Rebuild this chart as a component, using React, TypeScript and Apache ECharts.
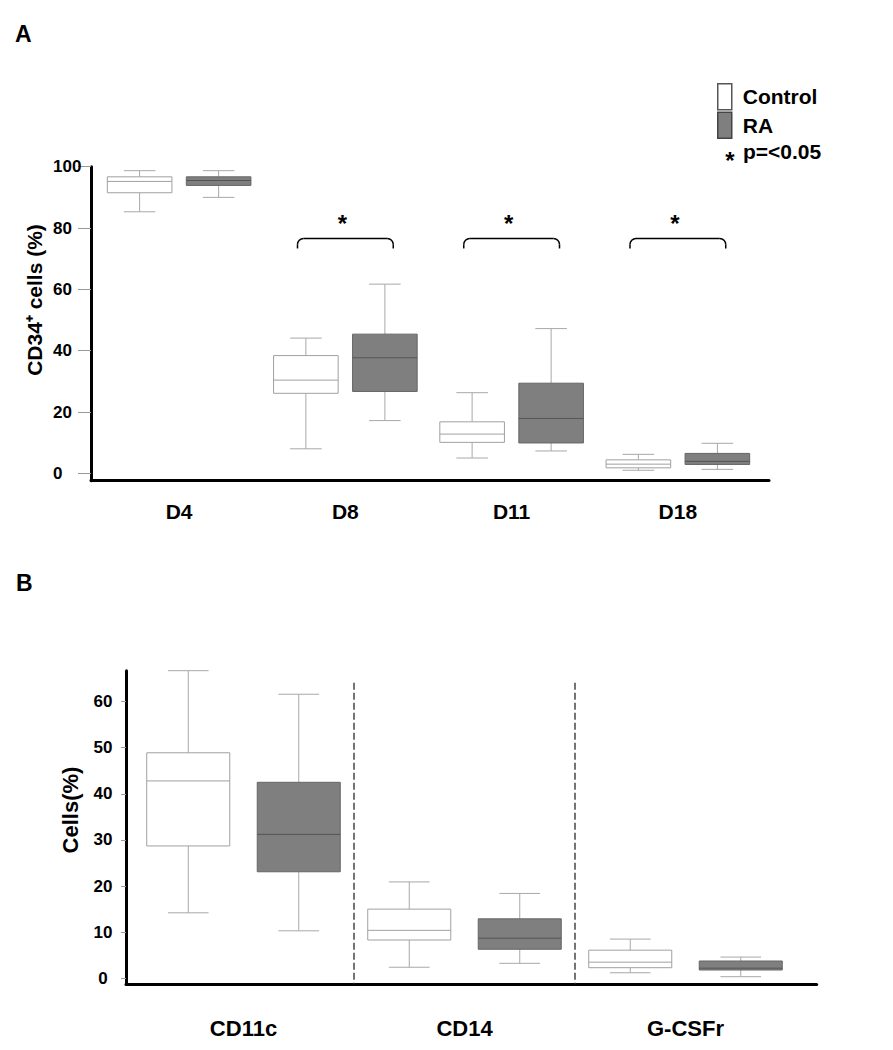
import React, { useEffect, useRef } from "react";
import * as echarts from "echarts";

// ---------- Panel A data: CD34+ cells (%) ----------
const daysA = ["D4", "D8", "D11", "D18"];
// each row: [min, Q1, median, Q3, max]
const controlA = [
  [85.3, 91.5, 95.2, 96.7, 98.7],
  [8.0, 26.1, 30.4, 38.4, 44.1],
  [5.0, 10.1, 12.8, 16.8, 26.3],
  [1.0, 1.8, 3.0, 4.4, 6.2],
];
const raA = [
  [90.0, 93.9, 95.5, 96.7, 98.7],
  [17.2, 26.7, 37.7, 45.4, 61.7],
  [7.3, 9.9, 17.9, 29.4, 47.2],
  [1.3, 2.9, 3.9, 6.5, 9.8],
];
const significantA = ["D8", "D11", "D18"];
const bracketLevelA = 76.6;
const yTicksA = [0, 20, 40, 60, 80, 100];
const yRangeA = [-2.4, 100];

// ---------- Panel B data: Cells (%) ----------
const markersB = ["CD11c", "CD14", "G-CSFr"];
const controlB = [
  [14.2, 28.7, 42.8, 48.9, 66.7],
  [2.4, 8.3, 10.4, 15.0, 20.9],
  [1.2, 2.3, 3.5, 6.1, 8.5],
];
const raB = [
  [10.3, 23.1, 31.2, 42.5, 61.6],
  [3.25, 6.3, 8.7, 12.9, 18.4],
  [0.35, 1.8, 2.2, 3.75, 4.6],
];
const separatorTopB = 64.1;
const yTicksB = [0, 10, 20, 30, 40, 50, 60];
const yRangeB = [-1.3, 66.7];

const FONT = "'Liberation Sans', Arial, Helvetica, sans-serif";

const controlStyle = { fill: "#ffffff", border: "#a0a0a0", median: "#a0a0a0", whisker: "#a8a8a8" };
const raStyle = { fill: "#7f7f7f", border: "#666666", median: "#555555", whisker: "#a8a8a8" };

function makeBoxRender(offsetFrac: number, widthFrac: number, capFrac: number, st: any) {
  return (params: any, api: any) => {
    const idx = api.value(0);
    const band = api.size([1, 0])[0];
    const c = api.coord([idx, api.value(3)]);
    const cx = c[0] + offsetFrac * band;
    const y = (v: number) => api.coord([idx, v])[1];
    const yMin = y(api.value(1));
    const yQ1 = y(api.value(2));
    const yMed = c[1];
    const yQ3 = y(api.value(4));
    const yMax = y(api.value(5));
    const hw = (widthFrac * band) / 2;
    const hc = (capFrac * band) / 2;
    const wStyle = { stroke: st.whisker, lineWidth: 1 };
    return {
      type: "group",
      children: [
        { type: "line", shape: { x1: cx, y1: yMax, x2: cx, y2: yQ3 }, style: wStyle },
        { type: "line", shape: { x1: cx, y1: yQ1, x2: cx, y2: yMin }, style: wStyle },
        { type: "line", shape: { x1: cx - hc, y1: yMax, x2: cx + hc, y2: yMax }, style: wStyle },
        { type: "line", shape: { x1: cx - hc, y1: yMin, x2: cx + hc, y2: yMin }, style: wStyle },
        {
          type: "rect",
          shape: { x: cx - hw, y: yQ3, width: 2 * hw, height: yQ1 - yQ3 },
          style: { fill: st.fill, stroke: st.border, lineWidth: 1 },
        },
        {
          type: "line",
          shape: { x1: cx - hw, y1: yMed, x2: cx + hw, y2: yMed },
          style: { stroke: st.median, lineWidth: 1 },
        },
      ],
    };
  };
}

function bracketRender(params: any, api: any) {
  const p = api.coord([api.value(0), api.value(1)]);
  const band = api.size([1, 0])[0];
  const half = 0.288 * band;
  const x1 = p[0] - half;
  const x2 = p[0] + half;
  const yt = p[1];
  const ye = yt + 10;
  const r = 6;
  const s = { stroke: "#000", lineWidth: 1.5, fill: "none" };
  return {
    type: "group",
    children: [
      { type: "line", shape: { x1: x1, y1: yt + r, x2: x1, y2: ye }, style: s },
      { type: "line", shape: { x1: x1 + r, y1: yt, x2: x2 - r, y2: yt }, style: s },
      { type: "line", shape: { x1: x2, y1: yt + r, x2: x2, y2: ye }, style: s },
      { type: "arc", shape: { cx: x1 + r, cy: yt + r, r, startAngle: Math.PI, endAngle: Math.PI * 1.5 }, style: s },
      { type: "arc", shape: { cx: x2 - r, cy: yt + r, r, startAngle: Math.PI * 1.5, endAngle: Math.PI * 2 }, style: s },
      {
        type: "text",
        x: p[0] - 3,
        y: yt - 15,
        style: { text: "*", fontSize: 24, fontWeight: "bold", fontFamily: FONT, fill: "#000", align: "center", verticalAlign: "middle" },
      },
    ],
  };
}

function separatorRender(params: any, api: any) {
  const p = api.coord([api.value(0), api.value(1)]);
  const bottom = api.coord([api.value(0), yRangeB[0]])[1];
  const band = api.size([1, 0])[0];
  const x = p[0] - band / 2;
  return {
    type: "line",
    shape: { x1: x, y1: p[1], x2: x, y2: bottom },
    style: { stroke: "#2a2a2a", lineWidth: 1.3, lineDash: [7, 3] },
  };
}

const boxData = (rows: number[][]) => rows.map((r, i) => [i, ...r]);

export default function App() {
  const ref = useRef<HTMLDivElement>(null);

  useEffect(() => {
    if (!ref.current) return;
    const chart = echarts.init(ref.current, null, { renderer: "svg" });

    const boldLabel = (size: number) => ({ fontSize: size, fontWeight: "bold", color: "#000", fontFamily: FONT });

    const option: any = {
      animation: false,
      backgroundColor: "#ffffff",
      grid: [
        { left: 91, top: 166.7, width: 678, height: 314 },
        { left: 96, top: 166.7, width: 665, height: 314 },
        { left: 126, top: 670.7, width: 690.7, height: 313.6 },
        { left: 133, top: 670.7, width: 663, height: 313.6 },
      ],
      xAxis: [
        {
          gridIndex: 0, type: "value", min: 0, max: 1,
          axisLine: { show: true, onZero: false, lineStyle: { color: "#000", width: 3 } },
          axisTick: { show: false }, axisLabel: { show: false }, splitLine: { show: false },
        },
        {
          gridIndex: 1, type: "category", data: daysA,
          axisLine: { show: false }, axisTick: { show: false }, splitLine: { show: false },
          axisLabel: { ...boldLabel(21), margin: 20 },
        },
        {
          gridIndex: 2, type: "value", min: 0, max: 1,
          axisLine: { show: true, onZero: false, lineStyle: { color: "#000", width: 3 } },
          axisTick: { show: false }, axisLabel: { show: false }, splitLine: { show: false },
        },
        {
          gridIndex: 3, type: "category", data: markersB,
          axisLine: { show: false }, axisTick: { show: false }, splitLine: { show: false },
          axisLabel: { ...boldLabel(22), margin: 33 },
        },
      ],
      yAxis: [
        {
          gridIndex: 0, type: "value", min: yRangeA[0], max: yRangeA[1],
          axisLine: { show: true, lineStyle: { color: "#000", width: 3 } },
          axisTick: { show: true, length: 13, customValues: yTicksA, lineStyle: { color: "#999", width: 1 } },
          axisLabel: { ...boldLabel(17), align: "left", margin: 38, customValues: yTicksA },
          splitLine: { show: false },
        },
        { gridIndex: 1, type: "value", min: yRangeA[0], max: yRangeA[1], show: false },
        {
          gridIndex: 2, type: "value", min: yRangeB[0], max: yRangeB[1],
          axisLine: { show: true, lineStyle: { color: "#000", width: 3 } },
          axisTick: { show: true, length: 5, customValues: yTicksB, lineStyle: { color: "#999", width: 1 } },
          axisLabel: { ...boldLabel(17), align: "center", margin: 23, customValues: yTicksB },
          splitLine: { show: false },
        },
        { gridIndex: 3, type: "value", min: yRangeB[0], max: yRangeB[1], show: false },
      ],
      legend: {
        orient: "vertical",
        left: 712,
        top: 78,
        itemWidth: 14,
        itemHeight: 26,
        itemGap: 1,
        icon: "rect",
        selectedMode: false,
        data: [
          { name: "Control", itemStyle: { color: "#ffffff", borderColor: "#555", borderWidth: 1.5 } },
          { name: "RA", itemStyle: { color: "#7f7f7f", borderColor: "#444", borderWidth: 1.5 } },
        ],
        textStyle: { fontSize: 21, fontWeight: "bold", color: "#000", fontFamily: FONT, padding: [0, 0, 0, 6] },
      },
      series: [
        {
          type: "custom", name: "Control", xAxisIndex: 1, yAxisIndex: 1,
          itemStyle: { color: "#ffffff", borderColor: "#555" },
          encode: { x: 0, y: [1, 2, 3, 4, 5] },
          renderItem: makeBoxRender(-0.2376, 0.3886, 0.19, controlStyle),
          data: boxData(controlA),
        },
        {
          type: "custom", name: "RA", xAxisIndex: 1, yAxisIndex: 1,
          itemStyle: { color: "#7f7f7f", borderColor: "#444" },
          encode: { x: 0, y: [1, 2, 3, 4, 5] },
          renderItem: makeBoxRender(0.2376, 0.3886, 0.19, raStyle),
          data: boxData(raA),
        },
        {
          type: "custom", name: "significance", xAxisIndex: 1, yAxisIndex: 1,
          encode: { x: 0, y: 1 },
          renderItem: bracketRender,
          data: significantA.map((d) => [daysA.indexOf(d), bracketLevelA]),
        },
        {
          type: "custom", name: "Control", xAxisIndex: 3, yAxisIndex: 3,
          itemStyle: { color: "#ffffff", borderColor: "#555" },
          encode: { x: 0, y: [1, 2, 3, 4, 5] },
          renderItem: makeBoxRender(-0.25, 0.3756, 0.184, controlStyle),
          data: boxData(controlB),
        },
        {
          type: "custom", name: "RA", xAxisIndex: 3, yAxisIndex: 3,
          itemStyle: { color: "#7f7f7f", borderColor: "#444" },
          encode: { x: 0, y: [1, 2, 3, 4, 5] },
          renderItem: makeBoxRender(0.25, 0.3756, 0.184, raStyle),
          data: boxData(raB),
        },
        {
          type: "custom", name: "separators", xAxisIndex: 3, yAxisIndex: 3,
          encode: { x: 0, y: 1 },
          renderItem: separatorRender,
          data: markersB.slice(1).map((m) => [markersB.indexOf(m), separatorTopB]),
        },
      ],
      graphic: [
        {
          type: "text", x: 15, y: 34,
          style: { text: "A", fontSize: 23, fontWeight: "bold", fontFamily: FONT, fill: "#000", align: "left", verticalAlign: "middle" },
        },
        {
          type: "text", x: 16, y: 583,
          style: { text: "B", fontSize: 23, fontWeight: "bold", fontFamily: FONT, fill: "#000", align: "left", verticalAlign: "middle" },
        },
        {
          type: "text", x: 34, y: 300, rotation: Math.PI / 2,
          style: { text: "CD34\u207A cells (%)", fontSize: 21, fontWeight: "bold", fontFamily: FONT, fill: "#000", align: "center", verticalAlign: "middle" },
        },
        {
          type: "text", x: 70, y: 810, rotation: Math.PI / 2,
          style: { text: "Cells(%)", fontSize: 22, fontWeight: "bold", fontFamily: FONT, fill: "#000", align: "center", verticalAlign: "middle" },
        },
        {
          type: "text", x: 730, y: 160,
          style: { text: "*", fontSize: 24, fontWeight: "bold", fontFamily: FONT, fill: "#000", align: "center", verticalAlign: "middle" },
        },
        {
          type: "text", x: 743, y: 151,
          style: { text: "p=<0.05", fontSize: 21, fontWeight: "bold", fontFamily: FONT, fill: "#000", align: "left", verticalAlign: "middle" },
        },
      ],
    };

    chart.setOption(option);
    return () => chart.dispose();
  }, []);

  return (
    <div
      ref={ref}
      style={{ position: "absolute", left: 0, top: 0, width: 893, height: 1050, background: "#fff" }}
    />
  );
}
